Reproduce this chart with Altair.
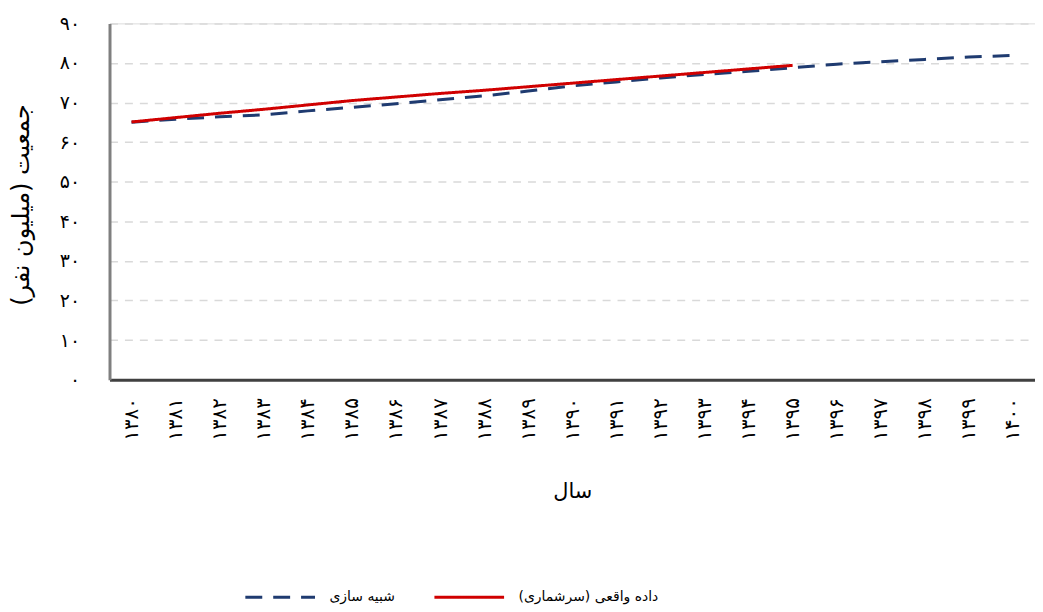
import altair as alt
import pandas as pd

years = ["۱۳۸۰", "۱۳۸۱", "۱۳۸۲", "۱۳۸۳", "۱۳۸۴", "۱۳۸۵", "۱۳۸۶", "۱۳۸۷", "۱۳۸۸", "۱۳۸۹",
         "۱۳۹۰", "۱۳۹۱", "۱۳۹۲", "۱۳۹۳", "۱۳۹۴", "۱۳۹۵", "۱۳۹۶", "۱۳۹۷", "۱۳۹۸", "۱۳۹۹", "۱۴۰۰"]

simulated = [65.0, 65.8, 66.4, 66.9, 67.9, 68.8, 69.7, 70.7, 71.7, 72.9,
             74.2, 75.2, 76.2, 77.1, 77.9, 78.8, 79.7, 80.3, 80.9, 81.5, 81.9]

actual = [65.1, 66.2, 67.3, 68.3, 69.4, 70.5, 71.4, 72.3, 73.1, 74.0,
          74.9, 75.8, 76.7, 77.6, 78.5, 79.4]

y_ticks = [0, 10, 20, 30, 40, 50, 60, 70, 80, 90]
y_tick_labels = ["۰", "۱۰", "۲۰", "۳۰", "۴۰", "۵۰", "۶۰", "۷۰", "۸۰", "۹۰"]

sim_name = "شبیه سازی"
act_name = "داده واقعی (سرشماری)\u200f"
x_title = "سال"
y_title = "جمعیت (میلیون نفر)\u200f"

rows = []
for y, v in zip(years, simulated):
    rows.append({"year": y, "value": v, "series": sim_name})
for y, v in zip(years, actual):
    rows.append({"year": y, "value": v, "series": act_name})
df = pd.DataFrame(rows)

FONT = "DejaVu Sans"
label_expr = "[" + ",".join("'%s'" % s for s in y_tick_labels) + "][round(datum.value/10)]"

legend_kw = dict(title=None, orient="none", direction="horizontal",
                 legendX=135, legendY=540, symbolType="stroke",
                 symbolSize=4900, symbolStrokeWidth=3,
                 labelFontSize=14, labelFont=FONT, labelColor="#000000",
                 labelOffset=13, columnPadding=33, labelLimit=300)

chart = alt.Chart(df).mark_line(strokeWidth=3).encode(
    x=alt.X("year:O", sort=years,
            axis=alt.Axis(title=x_title, labelAngle=270, labelPadding=18, ticks=False,
                          labelFontSize=20, titleFontSize=21, titleFontWeight="normal",
                          titleY=112, titleBaseline="middle",
                          domainColor="#404040", domainWidth=3, grid=False,
                          labelColor="#000000", titleColor="#000000", labelFont=FONT, titleFont=FONT)),
    y=alt.Y("value:Q", scale=alt.Scale(domain=[0, 90], nice=False),
            axis=alt.Axis(title=y_title, values=y_ticks, labelExpr=label_expr, ticks=False,
                          labelPadding=30, labelFontSize=19, titleFontSize=24, titleFontWeight="normal",
                          titleX=-88, titleY=182, titleBaseline="middle", titleAngle=270,
                          domainColor="#7f7f7f", domainWidth=3,
                          grid=True, gridColor="#d9d9d9", gridDash=[8, 7], gridWidth=1.5,
                          labelColor="#000000", titleColor="#000000", labelFont=FONT, titleFont=FONT)),
    color=alt.Color("series:N", scale=alt.Scale(domain=[sim_name, act_name], range=["#1f3b70", "#d00000"]),
                    legend=alt.Legend(**legend_kw)),
    strokeDash=alt.StrokeDash("series:N", scale=alt.Scale(domain=[sim_name, act_name], range=[[17, 11], [1, 0]]),
                              legend=alt.Legend(**legend_kw)),
).properties(
    width=930, height=358,
    autosize=alt.AutoSizeParams(type="none"),
    padding={"left": 102, "top": 14, "right": 0, "bottom": 228},
).configure_view(
    stroke="#404040", strokeWidth=3
).configure(background="#ffffff")

chart.save("out.html", embed_options={"renderer": "svg", "actions": False})
